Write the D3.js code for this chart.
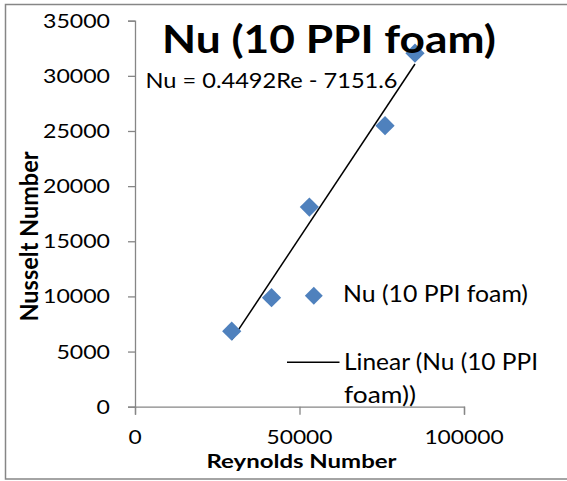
<!DOCTYPE html>
<html>
<head>
<meta charset="UTF-8">
<title>Nu (10 PPI foam)</title>
<script src="https://d3js.org/d3.v7.min.js"></script>
<style>
  body { margin: 0; background: #fff; }
  text { font-family: Lato, "Open Sans", sans-serif; fill: #000; }
</style>
</head>
<body>
<div id="chart"></div>
<script>
// data
var reynolds = [29400, 41500, 53000, 76000, 85100];
var nusselt = [6850, 9880, 18100, 25480, 32050];
var fitSlope = 0.4492, fitIntercept = -7151.6;
var xTicks = [0, 50000, 100000];
var yTicks = [0, 5000, 10000, 15000, 20000, 25000, 30000, 35000];
var seriesName = "Nu (10 PPI foam)";
var trendName = ["Linear (Nu (10 PPI", "foam))"];
var equation = "Nu = 0.4492Re - 7151.6";

var width = 567, height = 481;
var axisColor = "#868686", markerColor = "#4F81BD";

var svg = d3.select("#chart").append("svg")
    .attr("width", width)
    .attr("height", height);

// outer chart border
svg.append("rect")
    .attr("x", 5.5).attr("y", 4.5)
    .attr("width", 570).attr("height", 474.5)
    .attr("fill", "none")
    .attr("stroke", axisColor)
    .attr("stroke-width", 1.5);

var x = d3.scaleLinear().domain([0, 100000]).range([135, 464]);
var y = d3.scaleLinear().domain([0, 35000]).range([406.7, 20.7]);

// helper: text squeezed/stretched to a given length
function label(g, str, px, py, size, len, anchor, bold) {
  return g.append("text")
      .attr("x", px).attr("y", py)
      .attr("font-size", size)
      .attr("font-weight", bold ? "bold" : "normal")
      .attr("text-anchor", anchor || "start")
      .attr("textLength", len)
      .attr("lengthAdjust", "spacingAndGlyphs")
      .text(str);
}

// y axis
var yAxis = svg.append("g")
    .attr("transform", "translate(" + x(0) + ",0)")
    .call(d3.axisLeft(y).tickValues(yTicks).tickSize(7).tickFormat(""));
yAxis.select(".domain").attr("stroke", axisColor).attr("stroke-width", 1.3);
yAxis.selectAll(".tick line").attr("stroke", axisColor).attr("stroke-width", 1.3);
yTicks.forEach(function(t) {
  label(svg, String(t), 110, y(t) + 7, 20, String(t).length * 13.4, "end");
});

// x axis
var xAxis = svg.append("g")
    .attr("transform", "translate(0," + y(0) + ")")
    .call(d3.axisBottom(x).tickValues(xTicks).tickSize(8).tickFormat(""));
xAxis.select(".domain").attr("stroke", axisColor).attr("stroke-width", 1.3);
xAxis.selectAll(".tick line").attr("stroke", axisColor).attr("stroke-width", 1.3);
xTicks.forEach(function(t) {
  label(svg, String(t), x(t), 444, 18.5, String(t).length * 13.2, "middle");
});

// axis titles
label(svg, "Reynolds Number", 301.5, 468, 19, 190, "middle", true);
svg.append("text")
    .attr("transform", "translate(38,236.5) rotate(-90)")
    .attr("font-size", 24)
    .attr("font-weight", "bold")
    .attr("text-anchor", "middle")
    .attr("textLength", 170)
    .attr("lengthAdjust", "spacingAndGlyphs")
    .text("Nusselt Number");

// trendline across the data range
var xMin = d3.min(reynolds), xMax = d3.max(reynolds);
svg.append("line")
    .attr("x1", x(xMin)).attr("y1", y(fitSlope * xMin + fitIntercept))
    .attr("x2", x(xMax)).attr("y2", y(fitSlope * xMax + fitIntercept))
    .attr("stroke", "#000")
    .attr("stroke-width", 1.5);

// markers
var diamond = d3.symbol().type(d3.symbolSquare).size(185);
svg.selectAll(".pt")
    .data(reynolds)
    .enter().append("path")
    .attr("class", "pt")
    .attr("d", diamond)
    .attr("transform", function(d, i) {
      return "translate(" + x(d) + "," + y(nusselt[i]) + ") rotate(45)";
    })
    .attr("fill", markerColor);

// title and equation
label(svg, seriesName, 162, 53, 39, 334, "start", true);
label(svg, equation, 145.5, 88.3, 21, 252, "start");

// legend
svg.append("path")
    .attr("d", d3.symbol().type(d3.symbolSquare).size(160))
    .attr("transform", "translate(313.8,295.7) rotate(45)")
    .attr("fill", markerColor);
label(svg, seriesName, 343, 301.7, 23, 185, "start");
svg.append("line")
    .attr("x1", 287).attr("x2", 339.5)
    .attr("y1", 362.3).attr("y2", 362.3)
    .attr("stroke", "#000").attr("stroke-width", 1.5);
label(svg, trendName[0], 344, 370, 23, 194, "start");
label(svg, trendName[1], 344, 403, 23, 72, "start");
</script>
</body>
</html>
